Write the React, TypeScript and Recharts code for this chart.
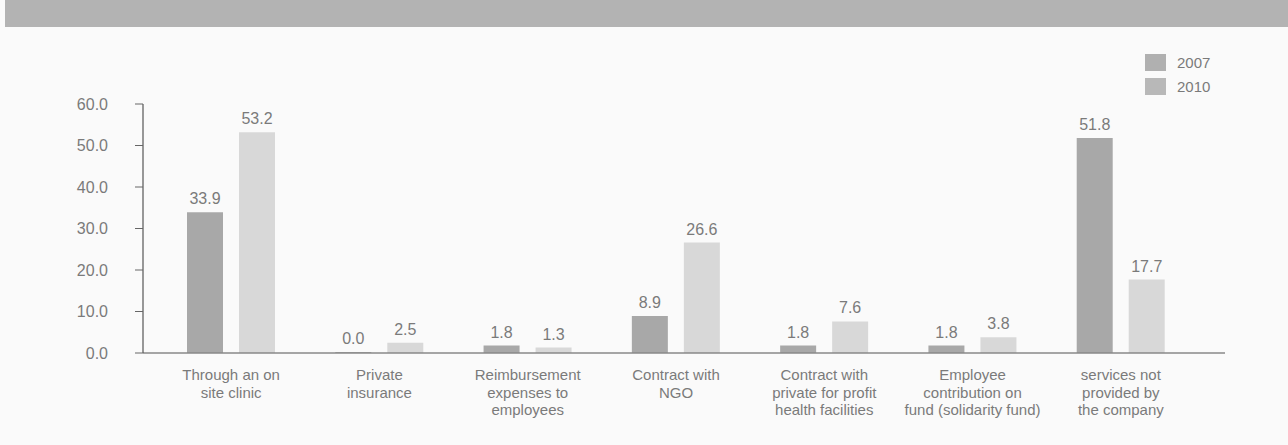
import React from "react";
import { BarChart, Bar, XAxis, YAxis, LabelList } from "recharts";

const categories = [
  "Through an on\nsite clinic",
  "Private\ninsurance",
  "Reimbursement\nexpenses to\nemployees",
  "Contract with\nNGO",
  "Contract with\nprivate for profit\nhealth facilities",
  "Employee\ncontribution on\nfund (solidarity fund)",
  "services not\nprovided by\nthe company",
];
const values2007 = [33.9, 0.0, 1.8, 8.9, 1.8, 1.8, 51.8];
const values2010 = [53.2, 2.5, 1.3, 26.6, 7.6, 3.8, 17.7];
const yTicks = [0, 10, 20, 30, 40, 50, 60];

const C2007 = "#a8a8a8";
const C2010 = "#d8d8d8";
const TEXT = "#7a7a7a";
const FONT = "'Liberation Sans', Arial, sans-serif";

const data = categories.map((name, i) => ({ name, y2007: values2007[i], y2010: values2010[i] }));

function CategoryTick(props: any) {
  const { x, y, payload } = props;
  const lines = String(payload.value).split("\n");
  return (
    <text x={x} y={y + 19} textAnchor="middle" fill={TEXT} fontSize={15} fontFamily={FONT}>
      {lines.map((l, i) => (
        <tspan key={i} x={x} dy={i === 0 ? 0 : 17.5}>{l}</tspan>
      ))}
    </text>
  );
}

// value label above each bar (zero bars get a 1px stub so they keep a label)
function ValueLabel(props: any) {
  const { x, y, width, height, value } = props;
  if (value == null) return null;
  const top = Math.min(y, y + height);
  return (
    <text x={x + width / 2} y={top - 8} textAnchor="middle" fill={TEXT} fontSize={16} fontFamily={FONT}>
      {Number(value).toFixed(1)}
    </text>
  );
}

const legendItems = [
  { label: "2007", color: "#b0b0b0" },
  { label: "2010", color: "#b8b8b8" },
];

export default function App() {
  return (
    <div style={{ position: "absolute", left: 0, top: 0, width: 1288, height: 445, background: "#fafafa", overflow: "hidden" }}>
      <div style={{ position: "absolute", left: 5, top: 0, width: 1283, height: 27, background: "#b3b3b3" }} />
      <div style={{ position: "absolute", left: 1145, top: 50, fontFamily: FONT, fontSize: 15, color: TEXT }}>
        {legendItems.map((it) => (
          <div key={it.label} style={{ display: "flex", alignItems: "center", height: 24 }}>
            <span style={{ width: 21, height: 17, background: it.color, display: "inline-block", marginRight: 11 }} />
            <span>{it.label}</span>
          </div>
        ))}
      </div>
      <BarChart
        width={1288}
        height={445}
        data={data}
        margin={{ top: 104, right: 63, bottom: 0, left: 0 }}
        barSize={36}
        barGap={16}
      >
        <XAxis
          dataKey="name"
          interval={0}
          tickLine={false}
          axisLine={{ stroke: "#888", strokeWidth: 1.5 }}
          padding={{ left: 14, right: 30 }}
          tick={<CategoryTick />}
          height={92}
        />
        <YAxis
          width={143}
          domain={[0, 60]}
          ticks={yTicks}
          interval={0}
          tickFormatter={(v: number) => v.toFixed(1)}
          tickSize={8}
          tickMargin={27}
          axisLine={{ stroke: "#555", strokeWidth: 1.2 }}
          tickLine={{ stroke: "#666" }}
          tick={{ fill: TEXT, fontSize: 16, fontFamily: FONT }}
        />
        <Bar dataKey="y2007" name="2007" fill={C2007} minPointSize={1} isAnimationActive={false}>
          <LabelList dataKey="y2007" content={<ValueLabel />} />
        </Bar>
        <Bar dataKey="y2010" name="2010" fill={C2010} isAnimationActive={false}>
          <LabelList dataKey="y2010" content={<ValueLabel />} />
        </Bar>
      </BarChart>
    </div>
  );
}
